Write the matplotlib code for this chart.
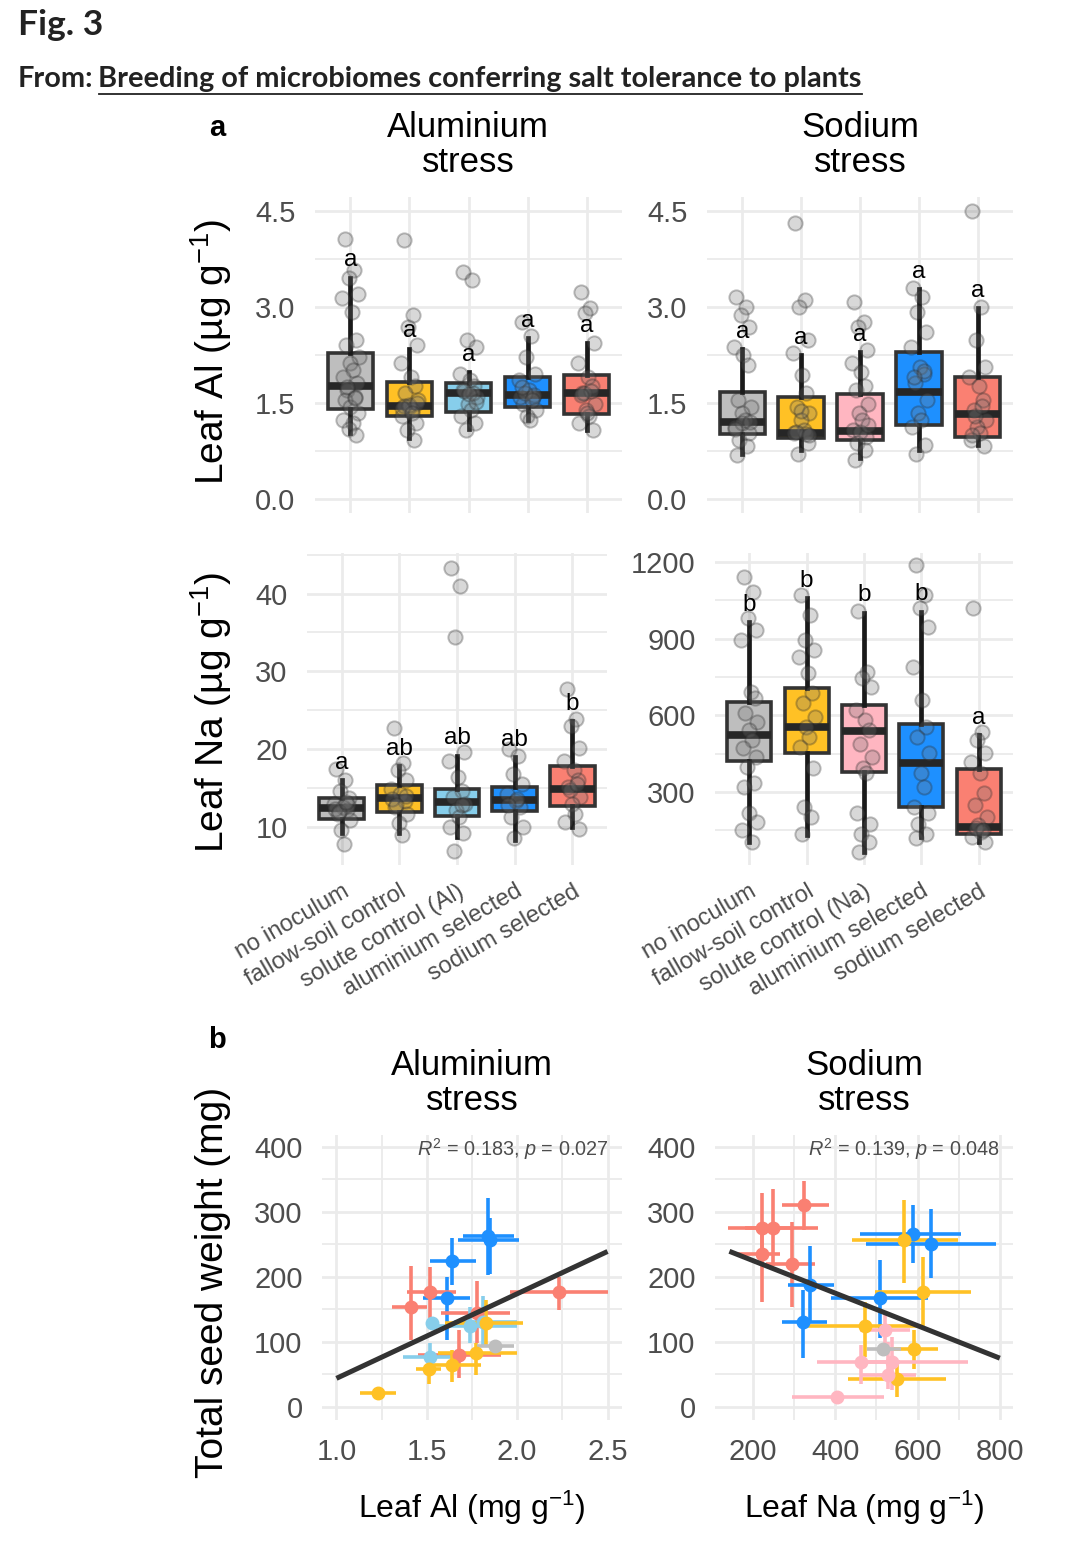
import numpy as np
import matplotlib
matplotlib.use("Agg")
import matplotlib.pyplot as plt
from matplotlib.lines import Line2D

plt.rcParams['font.family'] = ['Liberation Sans', 'DejaVu Sans']
plt.rcParams['mathtext.fontset'] = 'custom'
plt.rcParams['mathtext.rm'] = 'Liberation Sans'
plt.rcParams['mathtext.it'] = 'Liberation Sans:italic'
plt.rcParams['mathtext.bf'] = 'Liberation Sans:bold'

# ---- data ----
groups_al = ["no inoculum", "fallow-soil control", "solute control (Al)",
             "aluminium selected", "sodium selected"]
groups_na = ["no inoculum", "fallow-soil control", "solute control (Na)",
             "aluminium selected", "sodium selected"]
colors_al = ["#BEBEBE", "#FFC125", "#87CEEB", "#1E90FF", "#FA8072"]
colors_na = ["#BEBEBE", "#FFC125", "#FFB6C1", "#1E90FF", "#FA8072"]

# box stats: (whisker low, q1, median, q3, whisker high)
al_leafal_box = [(1.03, 1.40, 1.77, 2.28, 3.46),
                 (0.95, 1.30, 1.45, 1.83, 2.35),
                 (1.10, 1.36, 1.66, 1.82, 1.99),
                 (1.23, 1.43, 1.63, 1.91, 2.51),
                 (1.08, 1.33, 1.65, 1.93, 2.43)]
na_leafal_box = [(0.71, 1.01, 1.20, 1.67, 2.34),
                 (0.77, 0.95, 1.03, 1.59, 2.25),
                 (0.64, 0.92, 1.06, 1.64, 2.29),
                 (0.77, 1.16, 1.67, 2.30, 3.28),
                 (0.84, 0.97, 1.33, 1.91, 2.98)]
al_leafna_box = [(9.2, 11.1, 12.5, 13.8, 16.0),
                 (9.2, 12.0, 13.7, 15.4, 17.8),
                 (8.8, 11.5, 13.2, 14.9, 19.2),
                 (8.4, 12.1, 13.5, 15.1, 19.0),
                 (10.0, 12.7, 14.9, 17.8, 23.6)]
na_leafna_box = [(106, 421, 523, 651, 966),
                 (132, 454, 553, 708, 1058),
                 (67, 377, 539, 640, 1002),
                 (125, 240, 412, 566, 1006),
                 (106, 136, 165, 390, 523)]

al_leafal_pts = [
    [4.07, 3.58, 3.46, 3.21, 3.14, 2.93, 2.48, 2.41, 2.22, 2.12, 2.02, 1.91,
     1.81, 1.70, 1.60, 1.55, 1.44, 1.34, 1.23, 1.18, 1.10, 1.00, 1.75, 1.58],
    [4.05, 2.88, 2.69, 2.41, 2.12, 1.91, 1.76, 1.65, 1.55, 1.44, 1.39, 1.29,
     1.18, 1.08, 0.92, 1.45, 1.47, 1.50, 1.42, 1.35],
    [3.54, 3.42, 2.48, 2.38, 1.96, 1.86, 1.76, 1.68, 1.60, 1.49, 1.39, 1.29,
     1.18, 1.08, 1.66, 1.70, 1.64, 1.52],
    [2.77, 2.54, 2.22, 1.96, 1.86, 1.70, 1.60, 1.49, 1.39, 1.29, 1.23, 1.60,
     1.62, 1.65, 1.55, 1.75],
    [3.24, 2.98, 2.90, 2.43, 2.12, 1.91, 1.76, 1.65, 1.49, 1.39, 1.29, 1.18,
     1.08, 1.66, 1.68, 1.62, 1.35],
]
na_leafal_pts = [
    [3.16, 3.00, 2.88, 2.69, 2.38, 2.25, 2.09, 1.55, 1.44, 1.34, 1.23, 1.13,
     1.03, 0.92, 0.82, 0.69, 1.18, 1.20, 1.10],
    [4.31, 3.11, 3.00, 2.48, 2.28, 1.94, 1.65, 1.44, 1.34, 1.23, 1.08, 1.03,
     0.87, 0.71, 1.02, 1.05, 1.38, 1.00],
    [3.08, 2.77, 2.69, 2.33, 2.12, 1.99, 1.76, 1.70, 1.49, 1.34, 1.23, 1.08,
     0.97, 0.87, 0.77, 0.61, 1.05, 1.15],
    [3.29, 3.16, 2.93, 2.61, 2.38, 2.07, 1.96, 1.81, 1.55, 1.34, 1.23, 1.13,
     0.84, 0.71, 2.00, 1.90],
    [4.50, 3.00, 2.48, 2.07, 1.91, 1.76, 1.55, 1.39, 1.23, 1.13, 1.03, 0.92,
     0.82, 1.30, 1.45, 1.00],
]
al_leafna_pts = [
    [17.5, 16.0, 14.7, 13.7, 13.0, 12.6, 12.2, 11.7, 10.9, 9.6, 7.9, 12.4,
     12.8, 11.9, 13.3],
    [22.8, 18.3, 17.3, 16.0, 14.9, 14.3, 13.4, 12.6, 11.7, 10.5, 9.0, 13.6,
     14.0, 12.9],
    [43.3, 41.0, 34.4, 19.6, 18.5, 16.4, 14.7, 13.9, 13.0, 12.2, 11.3, 10.0,
     9.2, 6.9, 12.8],
    [20.0, 19.2, 16.8, 15.6, 14.3, 13.4, 12.6, 11.3, 10.0, 8.6, 13.6, 12.9],
    [27.7, 23.9, 23.0, 20.2, 18.5, 17.3, 16.0, 15.1, 13.9, 13.0, 11.7, 10.7,
     9.8, 14.8, 15.5],
]
na_leafna_pts = [
    [1143, 1084, 980, 934, 895, 693, 667, 608, 575, 543, 503, 471, 438, 399,
     334, 321, 217, 184, 151, 106],
    [1071, 993, 895, 856, 830, 764, 686, 647, 595, 556, 517, 477, 393, 243,
     203, 138],
    [1010, 771, 745, 712, 621, 582, 543, 490, 438, 393, 373, 217, 177, 138,
     106, 67],
    [1188, 1071, 1019, 947, 790, 660, 556, 517, 451, 373, 321, 243, 217, 177,
     138, 119],
    [1019, 536, 503, 451, 419, 373, 295, 249, 203, 171, 145, 125, 106, 160, 150],
]

letters_al_leafal = ["a", "a", "a", "a", "a"]
letters_na_leafal = ["a", "a", "a", "a", "a"]
letters_al_leafna = ["a", "ab", "ab", "ab", "b"]
letters_na_leafna = ["b", "b", "b", "b", "a"]

# panel b: group index into the palette, means and error-bar limits
b_al_group = [3, 3, 3, 3, 4, 4, 4, 4, 4, 2, 2, 2, 2, 1, 1, 1, 1, 1, 0]
b_al_x = [1.85, 1.84, 1.64, 1.61, 2.23, 1.41, 1.52, 1.68, 1.78,
          1.53, 1.74, 1.81, 1.52, 1.23, 1.51, 1.64, 1.77, 1.83, 1.88]
b_al_xlo = [1.67, 1.70, 1.52, 1.48, 1.96, 1.31, 1.39, 1.45, 1.58,
            1.50, 1.54, 1.65, 1.37, 1.13, 1.44, 1.52, 1.56, 1.60, 1.78]
b_al_xhi = [2.01, 1.98, 1.77, 1.74, 2.50, 1.50, 1.66, 1.91, 1.96,
            1.57, 2.00, 2.00, 1.69, 1.33, 1.58, 1.80, 2.00, 2.03, 1.98]
b_al_y = [257, 263, 224, 167, 176, 154, 176, 80, 144,
          129, 124, 131, 77, 21, 59, 65, 83, 129, 93]
b_al_ylo = [205, 203, 188, 103, 149, 103, 129, 44, 98,
            119, 98, 93, 67, 11, 36, 39, 49, 93, 85]
b_al_yhi = [290, 321, 259, 200, 200, 216, 215, 118, 193,
            139, 154, 170, 98, 31, 77, 88, 98, 165, 101]

b_na_group = [4, 4, 4, 4, 4, 3, 3, 3, 3, 3, 1, 1, 1, 1, 1, 2, 2, 2, 2, 2, 0]
b_na_x = [221, 249, 325, 221, 296, 338, 322, 510, 588, 632,
          567, 613, 473, 591, 550, 405, 462, 538, 528, 520, 516]
b_na_xlo = [140, 180, 270, 160, 233, 286, 270, 391, 460, 474,
            442, 496, 334, 528, 431, 294, 356, 460, 460, 460, 478]
b_na_xhi = [300, 359, 384, 266, 352, 397, 379, 626, 706, 791,
            698, 731, 613, 650, 670, 518, 558, 723, 597, 581, 561]
b_na_y = [275, 275, 311, 235, 219, 188, 130, 167, 266, 251,
          257, 177, 125, 89, 43, 15, 69, 69, 49, 118, 89]
b_na_ylo = [236, 216, 272, 162, 154, 129, 75, 106, 221, 198,
            190, 124, 77, 59, 16, 10, 36, 26, 27, 85, 80]
b_na_yhi = [329, 335, 348, 277, 285, 247, 180, 226, 311, 304,
            318, 231, 162, 118, 65, 20, 95, 108, 100, 147, 98]

# linear fits: intercept, slope, x range of the line
fit_al = (-86.0, 130.0, (1.0, 2.5))
fit_na = (275.0, -0.25, (143.0, 800.0))
stat_al = "$R^2$ = 0.183, $p$ = 0.027"
stat_na = "$R^2$ = 0.139, $p$ = 0.048"

# ---- layout ----
W, H = 1080, 1552
JITTER = [-0.10, 0.06, -0.03, 0.12, -0.14, 0.02, 0.09, -0.07, 0.14, -0.01,
          0.04, -0.12, 0.11, -0.05, 0.08, -0.09, 0.0, 0.13, -0.13, 0.05,
          -0.02, 0.10, -0.06, 0.07]
GRID = "#EBEBEB"
TICKC = "#4D4D4D"


def rect(x0, y0, x1, y1):
    return [x0 / W, 1 - y1 / H, (x1 - x0) / W, (y1 - y0) / H]


def ftext(x, y, s, **kw):
    return fig.text(x / W, 1 - y / H, s, **kw)


def style(ax, ylim, major, minor, xlim=None, xmajor=None, xminor=None):
    ax.set_ylim(*ylim)
    ax.set_yticks(major)
    ax.set_yticks(minor, minor=True)
    if xlim is not None:
        ax.set_xlim(*xlim)
    if xmajor is not None:
        ax.set_xticks(xmajor)
    if xminor is not None:
        ax.set_xticks(xminor, minor=True)
    ax.grid(True, which="major", color=GRID, lw=2.0)
    ax.grid(True, which="minor", color=GRID, lw=1.3)
    ax.set_axisbelow(True)
    for s in ax.spines.values():
        s.set_visible(False)
    ax.tick_params(which="both", length=0, labelsize=21, labelcolor=TICKC)
    ax.tick_params(axis="y", pad=14)
    ax.tick_params(axis="x", pad=13)


def box_panel(ax, box, pts, colors, letters, ylim, major, minor, fmt, labels=None):
    pos = np.arange(1, len(box) + 1)
    stats = [dict(whislo=b[0], q1=b[1], med=b[2], q3=b[3], whishi=b[4], fliers=[])
             for b in box]
    bp = ax.bxp(stats, positions=pos, widths=0.77, patch_artist=True,
                showcaps=False, showfliers=False,
                boxprops=dict(edgecolor="#333333", linewidth=2.6),
                medianprops=dict(color="#262626", linewidth=5.5, solid_capstyle="butt"),
                whiskerprops=dict(color="#1a1a1a", linewidth=3.4))
    for patch, c in zip(bp["boxes"], colors):
        patch.set_facecolor(c)
    for i, vals in enumerate(pts):
        offs = np.array([JITTER[k % len(JITTER)] for k in range(len(vals))])
        ax.scatter(pos[i] + offs, vals, s=105, facecolor=(0.45, 0.45, 0.45, 0.28),
                   edgecolor=(0.15, 0.15, 0.15, 0.3), linewidth=1.4, zorder=4)
    for i, (lab, b) in enumerate(zip(letters, box)):
        ax.annotate(lab, (pos[i], b[4]), xytext=(0, 8), textcoords="offset points",
                    ha="center", va="baseline", fontsize=17.5, color="black", zorder=6)
    ax.set_xlim(0.4, len(box) + 0.6)
    style(ax, ylim, major, minor)
    ax.set_yticks(major, [fmt.format(v) for v in major])
    ax.set_xticks(pos)
    if labels is None:
        ax.set_xticklabels([])
    else:
        ax.set_xticklabels(labels, rotation=30, ha="right", rotation_mode="anchor",
                           fontsize=17, color=TICKC)
        ax.tick_params(axis="x", pad=11)


def scatter_panel(ax, grp, x, xlo, xhi, y, ylo, yhi, fit, stat, colors, xlim, xmajor, xminor, xfmt):
    for g, xi, a, b, yi, c, d in zip(grp, x, xlo, xhi, y, ylo, yhi):
        ax.errorbar([xi], [yi], xerr=[[xi - a], [b - xi]], yerr=[[yi - c], [d - yi]],
                    fmt="o", color=colors[g], ms=9, elinewidth=2.6, capsize=0, zorder=3)
    xs = np.array(fit[2])
    ax.plot(xs, fit[0] + fit[1] * xs, color="#333333", lw=3.6, zorder=5,
            solid_capstyle="butt")
    ax.text(0.955, 0.952, stat, transform=ax.transAxes, ha="right", va="center",
            fontsize=14.3, color=TICKC)
    style(ax, (-20, 418), [0, 100, 200, 300, 400], [50, 150, 250, 350],
          xlim=xlim, xmajor=xmajor, xminor=xminor)
    ax.set_xticks(xmajor, [xfmt.format(v) for v in xmajor])


fig = plt.figure(figsize=(W / 100, H / 100), dpi=100)

# header
ftext(18, 25, "Fig. 3", fontsize=25.5, fontweight="bold", family="Lato",
      va="center", color="#222222")
t1 = ftext(18, 79, "From:", fontsize=20.8, fontweight="bold", family="Lato",
           va="center", color="#222222")
fig.canvas.draw()
r = fig.canvas.get_renderer()
bb1 = t1.get_window_extent(r)
t2 = fig.text((bb1.x1 + 5) / W, 1 - 79 / H,
              "Breeding of microbiomes conferring salt tolerance to plants",
              fontsize=20.8, fontweight="bold", family="Lato", va="center",
              color="#222222")
bb2 = t2.get_window_extent(r)
fig.add_artist(Line2D([bb2.x0 / W, bb2.x1 / W], [1 - 94 / H, 1 - 94 / H],
                      color="#222222", lw=1.3))

# panel a
ax_tl = fig.add_axes(rect(315, 197, 622, 513))
box_panel(ax_tl, al_leafal_box, al_leafal_pts, colors_al, letters_al_leafal,
          (-0.22, 4.72), [0, 1.5, 3.0, 4.5], [0.75, 2.25, 3.75], "{:.1f}")
ax_tr = fig.add_axes(rect(707, 197, 1013, 513))
box_panel(ax_tr, na_leafal_box, na_leafal_pts, colors_na, letters_na_leafal,
          (-0.22, 4.72), [0, 1.5, 3.0, 4.5], [0.75, 2.25, 3.75], "{:.1f}")
ax_bl = fig.add_axes(rect(307, 553, 607, 865))
box_panel(ax_bl, al_leafna_box, al_leafna_pts, colors_al, letters_al_leafna,
          (5.15, 45.2), [10, 20, 30, 40], [15, 25, 35, 45], "{:.0f}", labels=groups_al)
ax_br = fig.add_axes(rect(715, 553, 1013, 865))
box_panel(ax_br, na_leafna_box, na_leafna_pts, colors_na, letters_na_leafna,
          (15, 1235), [300, 600, 900, 1200], [150, 450, 750, 1050], "{:.0f}",
          labels=groups_na)

ftext(217, 128, "a", fontsize=21, fontweight="bold", ha="center", va="center")
ftext(468, 145, "Aluminium\nstress", fontsize=25, ha="center", va="center",
      linespacing=1.05)
ftext(860, 145, "Sodium\nstress", fontsize=25, ha="center", va="center",
      linespacing=1.05)
ftext(211, 352, "Leaf Al (µg g$^{-1}$)", fontsize=28, rotation=90,
      ha="center", va="center")
ftext(211, 712, "Leaf Na (µg g$^{-1}$)", fontsize=28, rotation=90,
      ha="center", va="center")

# panel b
ax_sl = fig.add_axes(rect(322, 1135, 622, 1420))
scatter_panel(ax_sl, b_al_group, b_al_x, b_al_xlo, b_al_xhi, b_al_y, b_al_ylo,
              b_al_yhi, fit_al, stat_al, colors_al, (0.92, 2.58),
              [1.0, 1.5, 2.0, 2.5], [1.25, 1.75, 2.25], "{:.1f}")
ax_sr = fig.add_axes(rect(715, 1135, 1013, 1420))
scatter_panel(ax_sr, b_na_group, b_na_x, b_na_xlo, b_na_xhi, b_na_y, b_na_ylo,
              b_na_yhi, fit_na, stat_na, colors_na, (108, 832),
              [200, 400, 600, 800], [300, 500, 700], "{:.0f}")

ftext(217, 1040, "b", fontsize=21, fontweight="bold", ha="center", va="center")
ftext(472, 1083, "Aluminium\nstress", fontsize=25, ha="center", va="center",
      linespacing=1.05)
ftext(864, 1083, "Sodium\nstress", fontsize=25, ha="center", va="center",
      linespacing=1.05)
ftext(213, 1282, "Total seed weight (mg)", fontsize=28, rotation=90,
      ha="center", va="center")
ftext(472, 1508, "Leaf Al (mg g$^{-1}$)", fontsize=23, ha="center", va="center")
ftext(864, 1508, "Leaf Na (mg g$^{-1}$)", fontsize=23, ha="center", va="center")

fig.savefig("out.png", dpi=100)
